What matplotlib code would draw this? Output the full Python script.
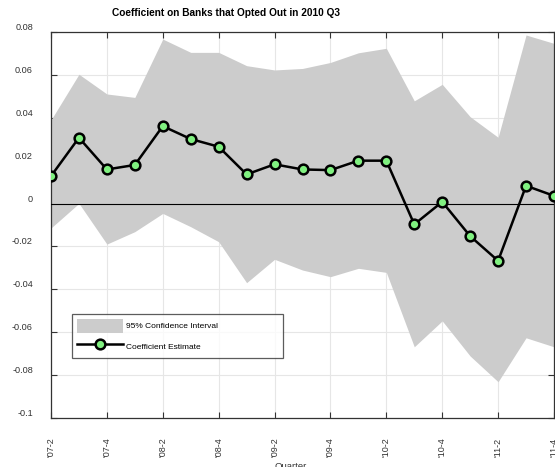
import matplotlib.pyplot as plt

plt.rcParams['font.family'] = ['Liberation Sans', 'DejaVu Sans']

# 数据：季度标签、系数估计、95% 置信区间上下界
quarters = ["'07-2", "'07-3", "'07-4", "'08-1", "'08-2", "'08-3", "'08-4", "'09-1", "'09-2", "'09-3",
            "'09-4", "'10-1", "'10-2", "'10-3", "'10-4", "'11-1", "'11-2", "'11-3", "'11-4"]
coef = [0.0128, 0.0307, 0.0159, 0.0180, 0.0361, 0.0301, 0.0265, 0.0136, 0.0183, 0.0159,
        0.0156, 0.0200, 0.0200, -0.0097, 0.0008, -0.0152, -0.0267, 0.0083, 0.0036]
ci_upper = [0.039, 0.0603, 0.0511, 0.0495, 0.0767, 0.0705, 0.0705, 0.0643, 0.0623, 0.0630,
            0.0658, 0.0703, 0.0724, 0.0479, 0.0556, 0.0405, 0.0309, 0.0786, 0.0747]
ci_lower = [-0.0114, 0.0001, -0.0189, -0.0131, -0.0046, -0.0108, -0.0178, -0.0369, -0.0260, -0.0310,
            -0.0341, -0.0302, -0.0321, -0.0668, -0.0547, -0.0711, -0.0831, -0.0626, -0.0668]
y_ticks = [-0.1, -0.08, -0.06, -0.04, -0.02, 0, 0.02, 0.04, 0.06, 0.08]
y_labels = ['-0.1', '-0.08', '-0.06', '-0.04', '-0.02', '0', '0.02', '0.04', '0.06', '0.08']

x = list(range(len(quarters)))

fig = plt.figure(figsize=(5.55, 4.67), dpi=100)
ax = fig.add_axes([51 / 555, 1 - 418 / 467, 503 / 555, 386 / 467])

# 1.置信区间 + 估计值
ax.fill_between(x, ci_lower, ci_upper, color='#cccccc', linewidth=0, label='95% Confidence Interval', zorder=2)
ax.axhline(0, color='black', linewidth=0.8, zorder=3)
ax.plot(x, coef, color='black', linewidth=1.8, marker='o', markersize=7,
        markerfacecolor='#80f080', markeredgecolor='black', markeredgewidth=1.8,
        label='Coefficient Estimate', zorder=4)

# 2.坐标轴
ax.set_xlim(0, 18)
ax.set_ylim(-0.1, 0.08)
ax.set_xticks(x[::2])
ax.set_xticklabels(quarters[::2], rotation=90, fontsize=6.5, color='#333333')
ax.set_yticks(y_ticks)
ax.set_yticklabels(y_labels, fontsize=6.6, color='#333333')
for lab in ax.get_yticklabels():
    lab.set_verticalalignment('bottom')
ax.tick_params(direction='in', top=True, right=True, length=4, width=0.8, color='#333333')
ax.tick_params(axis='x', pad=14)
ax.tick_params(axis='y', pad=13)
ax.grid(True, color='#e6e6e6', linewidth=0.8)
ax.set_axisbelow(True)
for sp in ax.spines.values():
    sp.set_color('#333333')
    sp.set_linewidth(0.9)

# 3.图例
leg = ax.legend(loc='upper left', bbox_to_anchor=(21 / 503, 104 / 386, 211 / 503, 0), mode='expand',
                borderaxespad=0, fontsize=6.0, frameon=True, fancybox=False, handlelength=5.6,
                handleheight=2.2, borderpad=0.55, labelspacing=0.8, handletextpad=0.35)
leg.get_frame().set_edgecolor('#333333')
leg.get_frame().set_linewidth(0.9)

# 4.标题
fig.text(226 / 555, 1 - 13 / 467, 'Coefficient on Banks that Opted Out in 2010 Q3',
         fontsize=7.3, fontweight='bold', ha='center', va='center')
fig.text(291 / 555, 1 - 462 / 467, 'Quarter', fontsize=6.8, ha='center', va='top', color='#333333')

fig.savefig('out.png', dpi=100)
